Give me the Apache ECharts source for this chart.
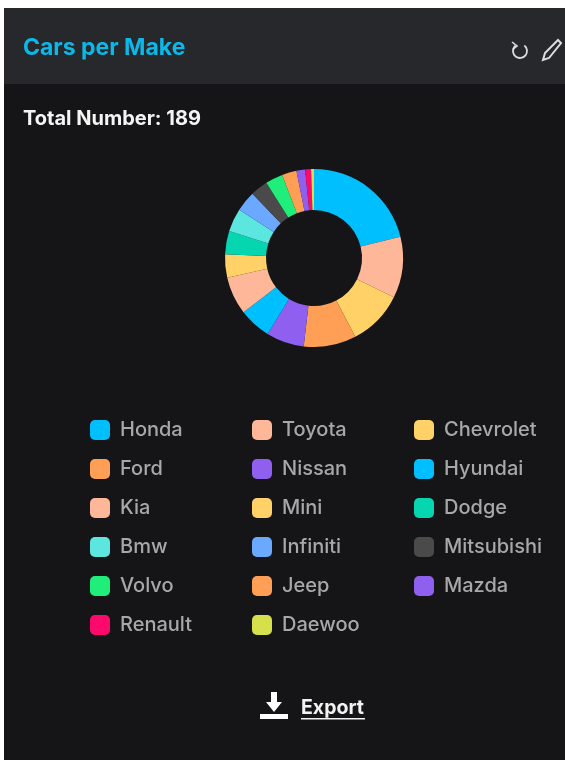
<!DOCTYPE html>
<html>
<head>
<meta charset="utf-8">
<script src="https://cdn.jsdelivr.net/npm/echarts@6/dist/echarts.min.js"></script>
<style>
html,body{margin:0;padding:0;background:#fff;}
#c{width:565px;height:760px;}
</style>
</head>
<body>
<div id="c"></div>
<script>
const makes = ['Honda','Toyota','Chevrolet','Ford','Nissan','Hyundai','Kia','Mini','Dodge','Bmw','Infiniti','Mitsubishi','Volvo','Jeep','Mazda','Renault','Daewoo'];
const counts = [40,21,19,18,13,11,13,8,8,8,7,6,6,5,3,2,1];
const colors = ['#00BFFF','#FFB799','#FFD166','#FF9F55','#8F5FEF','#00BFFF','#FFB799','#FFD166','#06D6B0','#5CE6E0','#6AA9FF','#4A4A4A','#1FEE7A','#FF9F55','#8F5FEF','#FF0A6C','#D6E04A'];
const legendCol1 = ['Honda','Ford','Kia','Bmw','Volvo','Renault'];
const legendCol2 = ['Toyota','Nissan','Mini','Infiniti','Jeep','Daewoo'];
const legendCol3 = ['Chevrolet','Hyundai','Dodge','Mitsubishi','Mazda'];
const FONT = 'Inter, "Open Sans", sans-serif';

const legend = (data, left) => ({
  data, left, top: 415, orient: 'vertical', icon: 'roundRect',
  itemWidth: 20, itemHeight: 20, itemGap: 19, selectedMode: false,
  textStyle: {color:'#a8a8a8', fontFamily: FONT, fontSize: 20, fontWeight: 500, padding:[2,0,0,5]}
});

const chart = echarts.init(document.getElementById('c'));
chart.setOption({
  animation: false,
  backgroundColor: '#ffffff',
  color: colors,
  title: [
    {text:'Cars per Make', left:18, top:32, textStyle:{color:'#0BB8E8', fontFamily:FONT, fontSize:23, fontWeight:700}},
    {text:'Total Number: 189', left:18, top:104, textStyle:{color:'#f4f4f4', fontFamily:FONT, fontSize:20, fontWeight:700}}
  ],
  legend: [legend(legendCol1,85), legend(legendCol2,247), legend(legendCol3,409)],
  graphic: [
    {type:'rect', z:-10, shape:{x:4,y:8,width:561,height:752}, style:{fill:'#151517'}},
    {type:'rect', z:-9, shape:{x:4,y:8,width:561,height:76}, style:{fill:'#26282b'}},
    {type:'arc', z:5, shape:{cx:520,cy:51,r:7,startAngle:-0.9,endAngle:4.0,clockwise:true}, style:{stroke:'#dddddd',lineWidth:1.8,fill:null}},
    {type:'polyline', z:5, shape:{points:[[512,42],[517,46],[513,49]]}, style:{stroke:'#dddddd',lineWidth:1.6,fill:null}},
    {type:'polygon', z:5, shape:{points:[[558,40],[561,43],[549,58],[543,60],[545,53]]}, style:{stroke:'#dddddd',lineWidth:2,fill:null}},
    {type:'polygon', z:5, shape:{points:[[271,692],[277,692],[277,702],[282,702],[274,712],[266,702],[271,702]]}, style:{fill:'#ffffff'}},
    {type:'rect', z:5, shape:{x:260,y:714,width:28,height:5}, style:{fill:'#ffffff'}},
    {type:'text', z:5, x:301, y:698, style:{text:'Export', fill:'#f2f2f2', font:'700 19.5px '+FONT}},
    {type:'rect', z:5, shape:{x:301,y:718,width:64,height:1.5}, style:{fill:'#f2f2f2'}}
  ],
  series: [{
    type:'pie',
    center:[314,258],
    radius:[48,89],
    startAngle:90,
    label:{show:false},
    labelLine:{show:false},
    silent:true,
    data: makes.map((name,i)=>({name,value:counts[i]}))
  }]
});
</script>
</body>
</html>
